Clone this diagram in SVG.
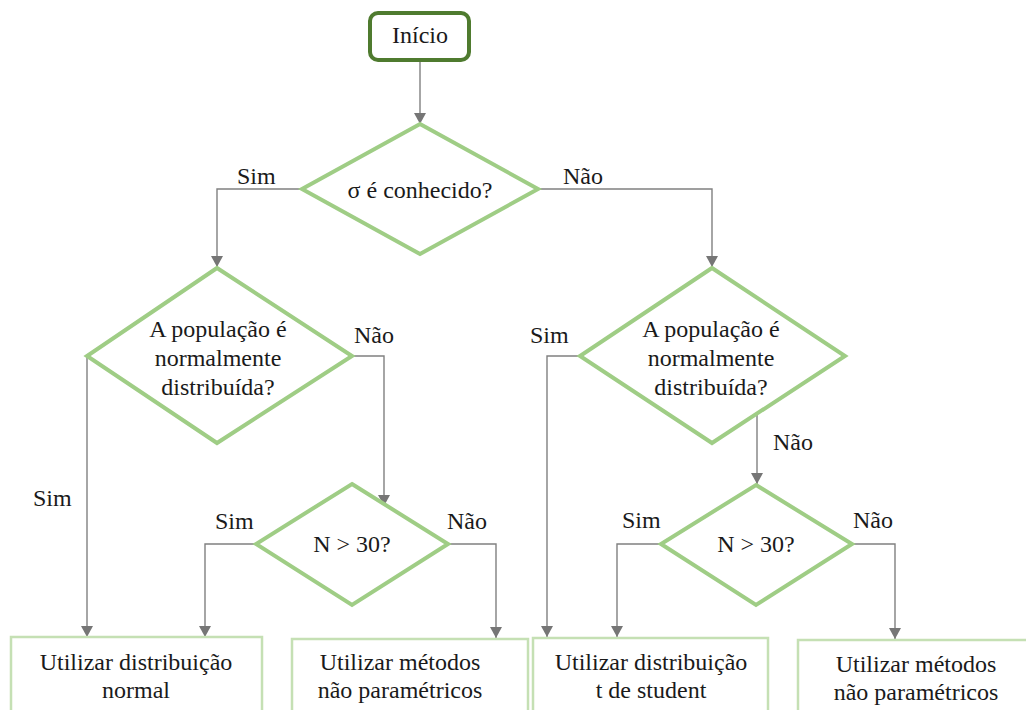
<svg xmlns="http://www.w3.org/2000/svg" width="1026" height="710" viewBox="0 0 1026 710" font-family="Liberation Serif, Tinos, Times New Roman, DejaVu Serif, serif">
<style>
text{font-size:24px;fill:#1a1a1a;text-anchor:middle}
.lbl{text-anchor:start}
.dia{fill:#fff;stroke:#9fcd85;stroke-width:4;stroke-linejoin:miter}
.box{fill:#fff;stroke:#c5e0b4;stroke-width:2.5}
.start{fill:#fff;stroke:#4f7b2f;stroke-width:4}
.con{fill:none;stroke:#808080;stroke-width:1.4;marker-end:url(#arr)}
</style>
<defs>
<marker id="arr" markerUnits="userSpaceOnUse" markerWidth="12" markerHeight="12" refX="11" refY="6" orient="auto">
<path d="M0,0 L11,6 L0,12 z" fill="#767676"/>
</marker>
</defs>
<rect width="1026" height="710" fill="#fff"/>
<g id="connectors">
<path class="con" d="M420,62 L420,124"/>
<path class="con" d="M302,189 L217,189 L217,267"/>
<path class="con" d="M538,189 L712,189 L712,267"/>
<path class="con" d="M87,356 L87,637"/>
<path class="con" d="M352,356 L384,356 L384,506"/>
<path class="con" d="M256,544 L205,544 L205,637"/>
<path class="con" d="M448,544 L496,544 L496,638"/>
<path class="con" d="M580,356 L547,356 L547,637"/>
<path class="con" d="M757,413 L757,484"/>
<path class="con" d="M661,544 L617,544 L617,637"/>
<path class="con" d="M852,544 L895,544 L895,639"/>
</g>
<g id="labels">
<text class="lbl" x="237" y="184">Sim</text>
<text class="lbl" x="563" y="184">Não</text>
<text class="lbl" x="354" y="343">Não</text>
<text class="lbl" x="33" y="506">Sim</text>
<text class="lbl" x="530" y="343">Sim</text>
<text class="lbl" x="773" y="450">Não</text>
<text class="lbl" x="215" y="529">Sim</text>
<text class="lbl" x="447" y="529">Não</text>
<text class="lbl" x="622" y="528">Sim</text>
<text class="lbl" x="853" y="528">Não</text>
</g>
<g id="inicio">
<rect class="start" x="370" y="13" width="99" height="47" rx="8"/>
<text x="420" y="43">Início</text>
</g>
<g id="d-sigma">
<polygon class="dia" points="420,124 538,189 420,254 302,189"/>
<text x="420" y="198">σ é conhecido?</text>
</g>
<g id="d-pop-left">
<polygon class="dia" points="217,268 352,356 217,443 87,356"/>
<text x="218" y="337">A população é</text>
<text x="218" y="366">normalmente</text>
<text x="218" y="395">distribuída?</text>
</g>
<g id="d-pop-right">
<polygon class="dia" points="712,268 845,356 712,443 580,356"/>
<text x="711" y="337">A população é</text>
<text x="711" y="366">normalmente</text>
<text x="711" y="395">distribuída?</text>
</g>
<g id="d-n-left">
<polygon class="dia" points="352,484 448,544 352,605 256,544"/>
<text x="352" y="552">N &gt; 30?</text>
</g>
<g id="d-n-right">
<polygon class="dia" points="756,485 852,544 756,605 661,544"/>
<text x="756" y="552">N &gt; 30?</text>
</g>
<g id="b-normal">
<rect class="box" x="11" y="637" width="251" height="90"/>
<text x="136" y="670">Utilizar distribuição</text>
<text x="136" y="698">normal</text>
</g>
<g id="b-naopar-left">
<rect class="box" x="292" y="639" width="236" height="90"/>
<text x="400" y="670">Utilizar métodos</text>
<text x="400" y="698">não paramétricos</text>
</g>
<g id="b-student">
<rect class="box" x="533" y="638" width="235" height="90"/>
<text x="651" y="670">Utilizar distribuição</text>
<text x="651" y="698">t de student</text>
</g>
<g id="b-naopar-right">
<rect class="box" x="798" y="640" width="240" height="90"/>
<text x="916" y="672">Utilizar métodos</text>
<text x="916" y="700">não paramétricos</text>
</g>
</svg>
